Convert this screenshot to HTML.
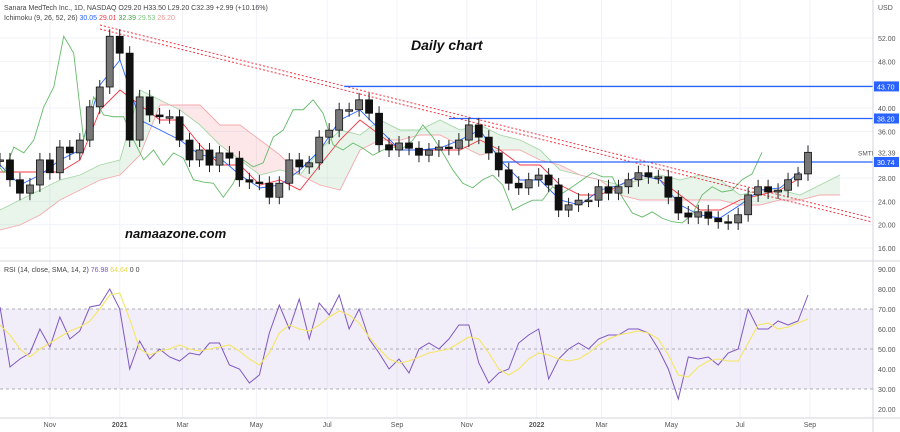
<!DOCTYPE html>
<html><head><meta charset="utf-8"><style>
body{margin:0;background:#fff;}
svg{display:block;font-family:"Liberation Sans",sans-serif;}
</style></head><body>
<svg id="c" width="900" height="432"></svg>
<script>
const closes=[31.1,27.7,25.4,26.8,31.1,28.9,33.3,32.3,34.5,40.2,43.6,52.3,49.4,34.5,41.9,38.8,38.5,38.5,34.5,31.1,32.8,30.2,32.3,31.4,27.7,27.3,27.1,24.7,27.1,31.1,29.9,30.6,35.0,36.2,39.7,39.7,41.4,39.1,33.7,32.8,34.0,33.1,31.9,32.8,33.3,33.1,34.5,37.1,35.0,32.3,29.4,27.1,26.3,27.7,28.5,26.8,22.5,23.4,24.2,24.2,26.5,25.4,26.5,27.7,28.9,28.2,28.2,24.7,22.0,21.3,22.2,21.1,20.5,20.3,21.7,25.1,26.5,25.6,25.9,27.7,28.7,32.4];
const kijunY=[172,172,172,172,160,110,90,105,120,120,145,165,165,185,180,190,165,140,120,135,150,150,150,150,140,150,165,165,185,195,195,185,175,180,195,210,210,200,195,190,178];
const tenkanY=[165,185,175,160,150,85,60,120,130,140,155,158,175,188,185,170,150,120,110,130,150,150,148,140,130,160,180,180,200,205,190,185,175,180,205,215,218,205,190,188,172];
const spanAY=[210,200,190,180,175,165,160,90,100,110,125,145,160,175,170,175,150,130,135,120,130,130,120,130,125,135,140,150,170,175,180,185,180,175,180,175,180,195,190,190,195,185,175];
const spanBY=[230,225,215,200,190,180,175,155,105,105,105,125,125,140,155,175,185,190,150,140,140,135,135,145,155,150,150,160,165,175,180,195,200,200,200,200,200,205,205,200,200,195,195];
const rsi=[71,41,45,48,60,51,66,55,59,71,72,80,70,40,54,45,50,46,44,48,47,53,53,42,40,33,37,58,72,60,75,55,73,67,77,60,70,55,48,40,45,38,50,53,50,55,62,62,43,33,38,40,53,57,60,35,45,50,53,50,55,57,57,60,60,58,50,40,25,46,45,46,42,48,50,70,60,60,64,62,64,77];
const rsiMa=[62,57,50,46,50,53,56,59,61,64,70,77,78,65,50,47,49,50,52,50,49,50,51,52,49,45,42,48,58,62,60,59,62,66,69,67,63,56,50,45,43,44,46,48,49,50,53,56,55,48,40,37,40,45,48,47,45,44,45,48,52,55,57,58,59,58,55,47,37,36,41,44,45,44,44,53,62,63,60,61,63,65];
const priceTicks=[52,48,40,36,28,24,20,16];
const rsiTicks=[90,80,70,60,50,40,30,20];
const timeLabels=["Nov","2021","Mar","May","Jul","Sep","Nov","2022","Mar","May","Jul","Sep"];
const timeIdx=[5,12,18.3,25.7,32.8,39.8,46.8,53.8,60.3,67.3,74.2,81.2];
const levels=[43.70,38.20,30.74];
const levelStart=[34.5,45,50];

const NS="http://www.w3.org/2000/svg",svg=document.getElementById('c');
const N=closes.length;
const x=i=>i*808/(N-1);
const py=p=>38+(52-p)*5.833;
const ry=r=>349-(r-50)*2;
const gx=i=>i*20;
function el(t,a,p){const e=document.createElementNS(NS,t);for(const k in a)e.setAttribute(k,a[k]);(p||svg).appendChild(e);return e;}
function pts(arr,fx,fy){return arr.map((v,i)=>fx(i)+','+fy(v)).join(' ');}
priceTicks.forEach(t=>{const l=el('line',{x1:0,x2:873,y1:py(t),y2:py(t),stroke:'#f0f3fa'});});
timeIdx.forEach(t=>{const l=el('line',{x1:x(t),x2:x(t),y1:0,y2:418,stroke:'#f0f3fa'});});
for(let i=0;i<spanAY.length-1;i++){const a0=spanAY[i],a1=spanAY[i+1],b0=spanBY[i],b1=spanBY[i+1];
 const g=(a0+a1)<(b0+b1);
 const p=el('polygon',{points:`${gx(i)},${a0} ${gx(i+1)},${a1} ${gx(i+1)},${b1} ${gx(i)},${b0}`,fill:g?'rgba(76,175,80,0.12)':'rgba(242,54,69,0.12)'});
 }
[[spanAY,'#a5d6a7','senkou-span-a'],[spanBY,'#f5a9ad','senkou-span-b'],[kijunY,'#f23645','kijun-line'],[tenkanY,'#2962ff','tenkan-line']].forEach(([a,c,n])=>{
 const l=el('polyline',{points:pts(a,gx,v=>v),fill:'none',stroke:c,'stroke-width':0.9});});
const ch=el('polyline',{points:pts(closes,i=>x(i)-46,py),fill:'none',stroke:'#66bb6a','stroke-width':0.9});

[[25,218],[29,222]].forEach(([a,b])=>{const l=el('line',{x1:100,y1:a,x2:872,y2:b,stroke:'#f23645','stroke-width':1,'stroke-dasharray':'2,2'});});
levels.forEach((v,k)=>{const l=el('line',{x1:x(levelStart[k]),x2:873,y1:py(v),y2:py(v),stroke:'#2962ff','stroke-width':1.3});});
for(let i=0;i<N;i++){const o=i?closes[i-1]:closes[0],c=closes[i];const hi=Math.max(o,c)+1.2,lo=Math.min(o,c)-1.2;
 const g=el('g',{});
 el('line',{x1:x(i),x2:x(i),y1:py(hi),y2:py(lo),stroke:'#222','stroke-width':1},g);
 el('rect',{x:x(i)-3.5,y:py(Math.max(o,c)),width:7,height:Math.max(1.5,Math.abs(py(o)-py(c))),fill:c>=o?'#777':'#111',stroke:'#111','stroke-width':0.8},g);}
el('line',{x1:0,x2:900,y1:261,y2:261,stroke:'#d1d4dc'});
el('line',{x1:0,x2:900,y1:418,y2:418,stroke:'#d1d4dc'});
el('line',{x1:873,x2:873,y1:0,y2:432,stroke:'#d1d4dc'});
const band=el('rect',{x:0,y:ry(70),width:873,height:ry(30)-ry(70),fill:'rgba(126,87,194,0.1)'});
[70,50,30].forEach(v=>{const l=el('line',{x1:0,x2:873,y1:ry(v),y2:ry(v),stroke:'#9598a1','stroke-dasharray':'3,3','stroke-width':0.8});});
const rl=el('polyline',{points:pts(rsi,x,ry),fill:'none',stroke:'#7e57c2','stroke-width':1});
const rm=el('polyline',{points:pts(rsiMa,x,ry),fill:'none',stroke:'#f5e663','stroke-width':1.1});
function txt(s,a,name,inter){const t=el('text',a);t.textContent=s;return t;}
priceTicks.forEach(t=>txt(t.toFixed(2),{x:878,y:py(t)+3,'font-size':7,fill:'#555'},'price-tick-label'));
rsiTicks.forEach(t=>txt(t.toFixed(2),{x:878,y:ry(t)+3,'font-size':7,fill:'#555'},'rsi-tick-label'));
txt('USD',{x:878,y:10,'font-size':7,fill:'#555'},'currency-label');
txt('32.39',{x:878,y:py(32.39)+3,'font-size':7,fill:'#555'},'last-price-label');
txt('SMTI',{x:858,y:py(32.39)+3,'font-size':6.5,fill:'#555'},'symbol-label');
levels.forEach(v=>{const g=el('g',{});
 el('rect',{x:874,y:py(v)-5,width:25,height:10,fill:'#2962ff'},g);const t=el('text',{x:877,y:py(v)+3,'font-size':7,fill:'#fff'},g);t.textContent=v.toFixed(2);});
timeLabels.forEach((s,k)=>txt(s,{x:x(timeIdx[k]),y:427,'font-size':7,fill:'#555','text-anchor':'middle','font-weight':s.length==4?'bold':'normal'},'time-label'));
const h1=txt('',{x:4,y:10,'font-size':7,fill:'#444'},'symbol-header');
h1.innerHTML='Sanara MedTech Inc., 1D, NASDAQ  O29.20  H33.50  L29.20  C32.39  +2.99 (+10.16%)';
const h2=el('text',{x:4,y:20,'font-size':7,fill:'#444'});
h2.innerHTML='Ichimoku (9, 26, 52, 26) <tspan fill="#2962ff">30.05</tspan> <tspan fill="#f23645">29.01</tspan> <tspan fill="#43a047">32.39</tspan> <tspan fill="#81c784">29.53</tspan> <tspan fill="#ef9a9a">26.20</tspan>';
const h3=el('text',{x:4,y:272,'font-size':7,fill:'#444'});
h3.innerHTML='RSI (14, close, SMA, 14, 2) <tspan fill="#7e57c2">76.98</tspan> <tspan fill="#e6d84a">64.64</tspan> 0 0';
txt('Daily chart',{x:411,y:50,'font-size':14,'font-weight':'bold','font-style':'italic',fill:'#111'},'chart-title');
txt('namaazone.com',{x:125,y:238,'font-size':13,'font-weight':'bold','font-style':'italic',fill:'#111'},'watermark');
</script>
</body></html>
